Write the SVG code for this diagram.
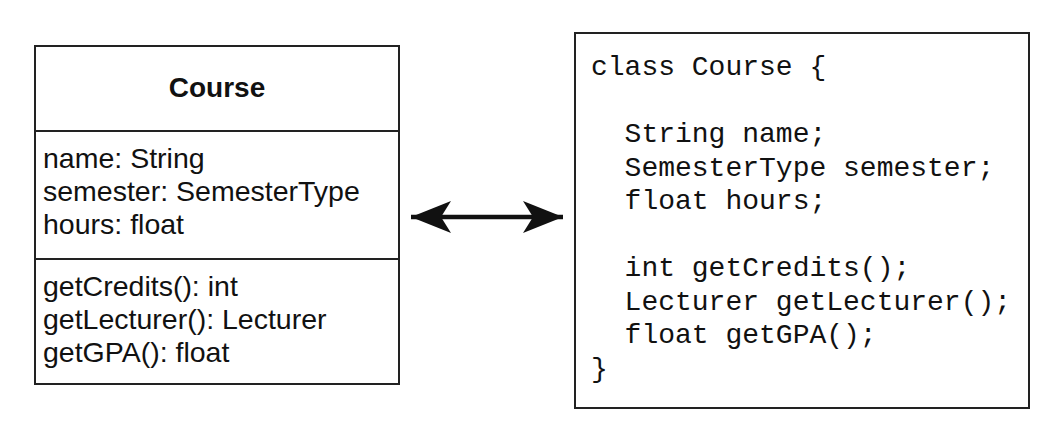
<svg xmlns="http://www.w3.org/2000/svg" width="1060" height="442" viewBox="0 0 1060 442">
<style>
.box{fill:#fff;stroke:#222;stroke-width:2}
.sans{font-family:"Liberation Sans",Arial,sans-serif;font-size:28.5px;fill:#111}
.bold{font-weight:bold;font-size:28px}
.mono{font-family:"Liberation Mono","Courier New",monospace;font-size:28px;fill:#111;white-space:pre}
</style>
<defs>
<marker id="ah" viewBox="0 0 40 32" refX="40" refY="16" markerWidth="40" markerHeight="32" markerUnits="userSpaceOnUse" orient="auto-start-reverse">
<path d="M0,0 L40,16 L0,32 L10,16 Z" fill="#111"/>
</marker>
</defs>
<rect width="1060" height="442" fill="#fff"/>
<g id="uml-course">
<rect class="box" x="35" y="46" width="364" height="338"/>
<line x1="35" y1="131" x2="399" y2="131" stroke="#222" stroke-width="2"/>
<line x1="35" y1="259" x2="399" y2="259" stroke="#222" stroke-width="2"/>
<text class="sans bold" x="217" y="97" text-anchor="middle">Course</text>
<text class="sans" x="43" y="168">name: String</text>
<text class="sans" x="43" y="201">semester: SemesterType</text>
<text class="sans" x="43" y="234">hours: float</text>
<text class="sans" x="43" y="296">getCredits(): int</text>
<text class="sans" x="43" y="329">getLecturer(): Lecturer</text>
<text class="sans" x="43" y="362">getGPA(): float</text>
</g>
<g id="code-course">
<rect class="box" x="575" y="33" width="454" height="375"/>
<text class="mono" x="591" y="75">class Course {</text>
<text class="mono" x="591" y="142">  String name;</text>
<text class="mono" x="591" y="175.5">  SemesterType semester;</text>
<text class="mono" x="591" y="209">  float hours;</text>
<text class="mono" x="591" y="276">  int getCredits();</text>
<text class="mono" x="591" y="309.5">  Lecturer getLecturer();</text>
<text class="mono" x="591" y="343">  float getGPA();</text>
<text class="mono" x="591" y="376.5">}</text>
</g>
<g id="connectors">
<line x1="411" y1="217" x2="563" y2="217" stroke="#111" stroke-width="4.5" marker-start="url(#ah)" marker-end="url(#ah)"/>
</g>
</svg>
